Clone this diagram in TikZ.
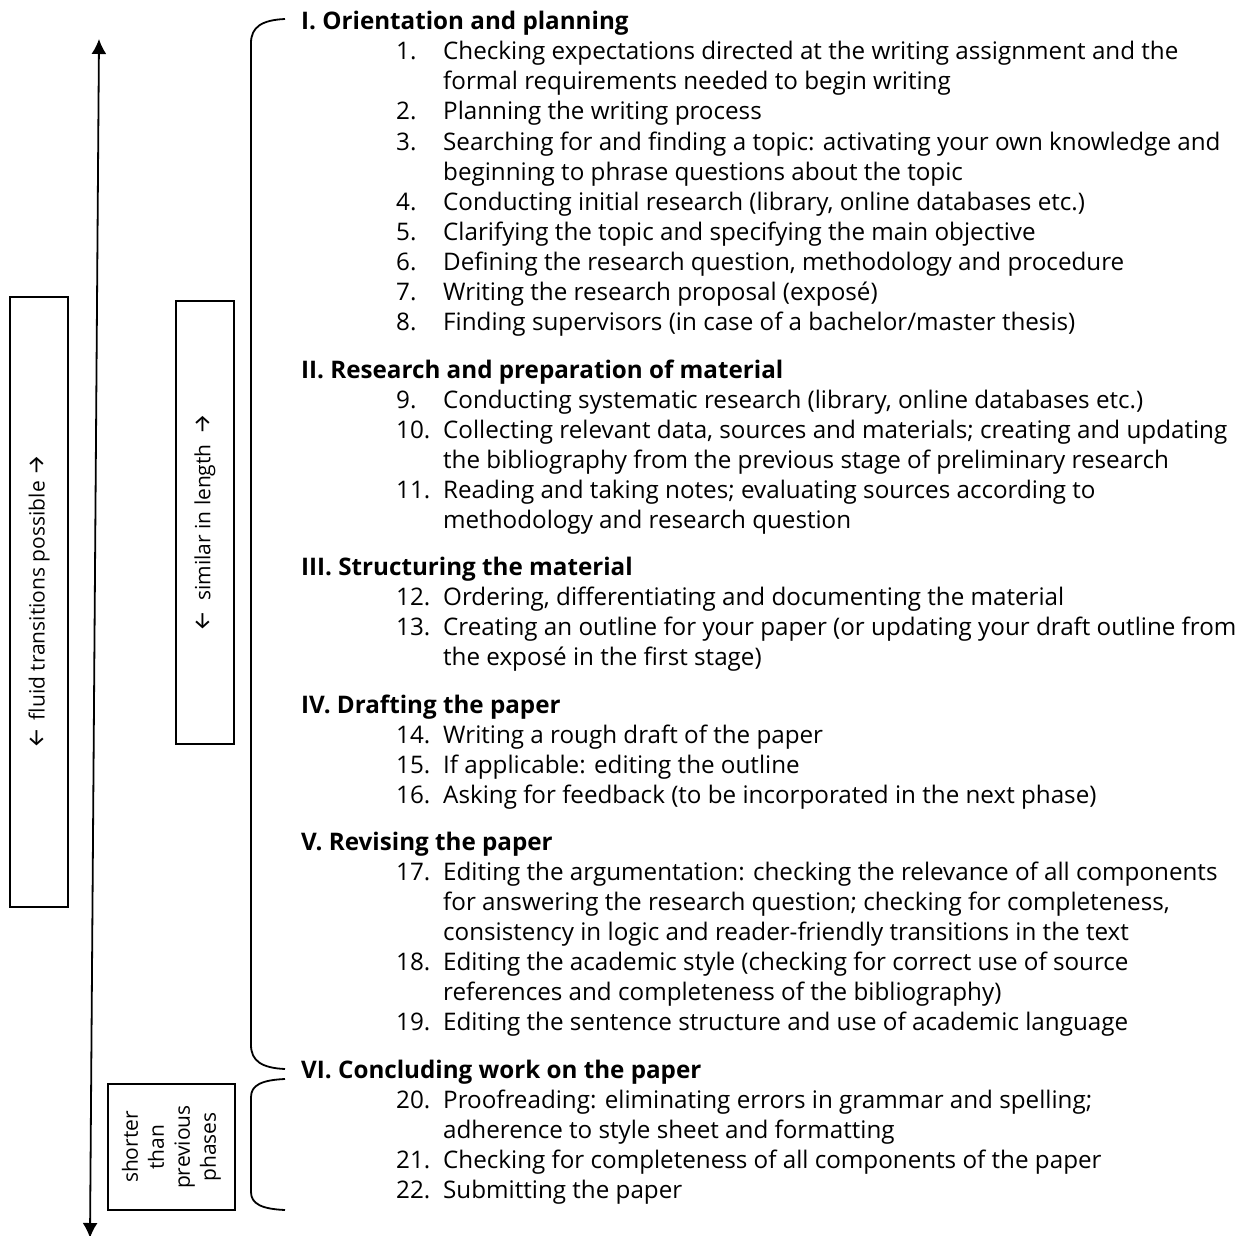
\documentclass[tikz,border=0pt]{standalone}
\usepackage{fontspec}
\setmainfont{Open Sans}
\newfontfamily\arrowfont{Fira Sans}
\usetikzlibrary{arrows.meta}
\newcommand{\itemline}[4]{%
  \node[txt] (n#1) at (396,#2+8) {#3};
  \node[txt] (t#1) at (443,#2+8) {#4};}
\newcommand{\contline}[3]{%
  \node[txt] (c#1) at (443,#2+8) {#3};}
\newcommand{\headline}[3]{%
  \node[hd] (h#1) at (301,#2+8) {#3};}
\newcommand{\sidearrow}[1]{{\arrowfont\fontsize{23}{26}\selectfont #1}}
\begin{document}
\begin{tikzpicture}[x=1pt,y=-1pt,
  txt/.style={anchor=base west, inner sep=0pt, font=\fontsize{24.2}{28}\selectfont},
  hd/.style={anchor=base west, inner sep=0pt, font=\fontsize{24.2}{28}\selectfont\bfseries},
  sidebox/.style={draw, line width=1.3pt, rotate=90, inner sep=0pt, align=center,
    font=\fontsize{21}{26}\selectfont},
  brace/.style={line width=1.8pt},
  mainarrow/.style={{Latex[length=15pt,width=15pt]}-{Latex[length=15pt,width=15pt]}, line width=1.8pt}]
\useasboundingbox (0,0) rectangle (1240,1236);

% main arrow
\coordinate (atop) at (99,39);
\coordinate (abot) at (90,1238);
\draw[mainarrow] (abot) -- (atop);

% side boxes
\node[sidebox, minimum width=610pt, minimum height=58pt] (fluid) at (39,602)
  {\sidearrow{←}\hspace{8pt}fluid transitions possible \sidearrow{→}};
\node[sidebox, minimum width=443pt, minimum height=58pt] (similar) at (205,522.5)
  {\sidearrow{←}\hspace{10pt}similar in length\hspace{10pt}\sidearrow{→}};
\node[sidebox, minimum width=126pt, minimum height=127pt] (shorter) at (171.5,1147)
  {shorter\\than\\previous\\phases};

% brackets
\coordinate (b1s) at (285,19);
\coordinate (b1e) at (285,1069);
\draw[brace] (b1s) .. controls (262,20) and (251,27) .. (251,43) -- (251,1045)
  .. controls (251,1061) and (262,1068) .. (b1e);
\coordinate (b2s) at (285,1079);
\coordinate (b2e) at (285,1210);
\draw[brace] (b2s) .. controls (262,1080) and (251,1085) .. (251,1097) -- (251,1192)
  .. controls (251,1204) and (262,1209) .. (b2e);

% section I
\headline{1}{22}{I. Orientation and planning}
\itemline{1}{52}{1.}{Checking expectations directed at the writing assignment and the}
\contline{1}{82}{formal requirements needed to begin writing}
\itemline{2}{112}{2.}{Planning the writing process}
\itemline{3}{142}{3.}{Searching for and finding a topic: activating your own knowledge and}
\contline{3}{172}{beginning to phrase questions about the topic}
\itemline{4}{202}{4.}{Conducting initial research (library, online databases etc.)}
\itemline{5}{232}{5.}{Clarifying the topic and specifying the main objective}
\itemline{6}{262}{6.}{Defining the research question, methodology and procedure}
\itemline{7}{292}{7.}{Writing the research proposal (exposé)}
\itemline{8}{322}{8.}{Finding supervisors (in case of a bachelor/master thesis)}

% section II
\headline{2}{370}{II. Research and preparation of material}
\itemline{9}{400}{9.}{Conducting systematic research (library, online databases etc.)}
\itemline{10}{430}{10.}{Collecting relevant data, sources and materials; creating and updating}
\contline{10}{460}{the bibliography from the previous stage of preliminary research}
\itemline{11}{490}{11.}{Reading and taking notes; evaluating sources according to}
\contline{11}{520}{methodology and research question}

% section III
\headline{3}{567}{III. Structuring the material}
\itemline{12}{597}{12.}{Ordering, differentiating and documenting the material}
\itemline{13}{627}{13.}{Creating an outline for your paper (or updating your draft outline from}
\contline{13}{657}{the exposé in the first stage)}

% section IV
\headline{4}{705}{IV. Drafting the paper}
\itemline{14}{735}{14.}{Writing a rough draft of the paper}
\itemline{15}{765}{15.}{If applicable: editing the outline}
\itemline{16}{795}{16.}{Asking for feedback (to be incorporated in the next phase)}

% section V
\headline{5}{842}{V. Revising the paper}
\itemline{17}{872}{17.}{Editing the argumentation: checking the relevance of all components}
\contline{17a}{902}{for answering the research question; checking for completeness,}
\contline{17b}{932}{consistency in logic and reader-friendly transitions in the text}
\itemline{18}{962}{18.}{Editing the academic style (checking for correct use of source}
\contline{18}{992}{references and completeness of the bibliography)}
\itemline{19}{1022}{19.}{Editing the sentence structure and use of academic language}

% section VI
\headline{6}{1070}{VI. Concluding work on the paper}
\itemline{20}{1100}{20.}{Proofreading: eliminating errors in grammar and spelling;}
\contline{20}{1130}{adherence to style sheet and formatting}
\itemline{21}{1160}{21.}{Checking for completeness of all components of the paper}
\itemline{22}{1190}{22.}{Submitting the paper}
\end{tikzpicture}
\end{document}
